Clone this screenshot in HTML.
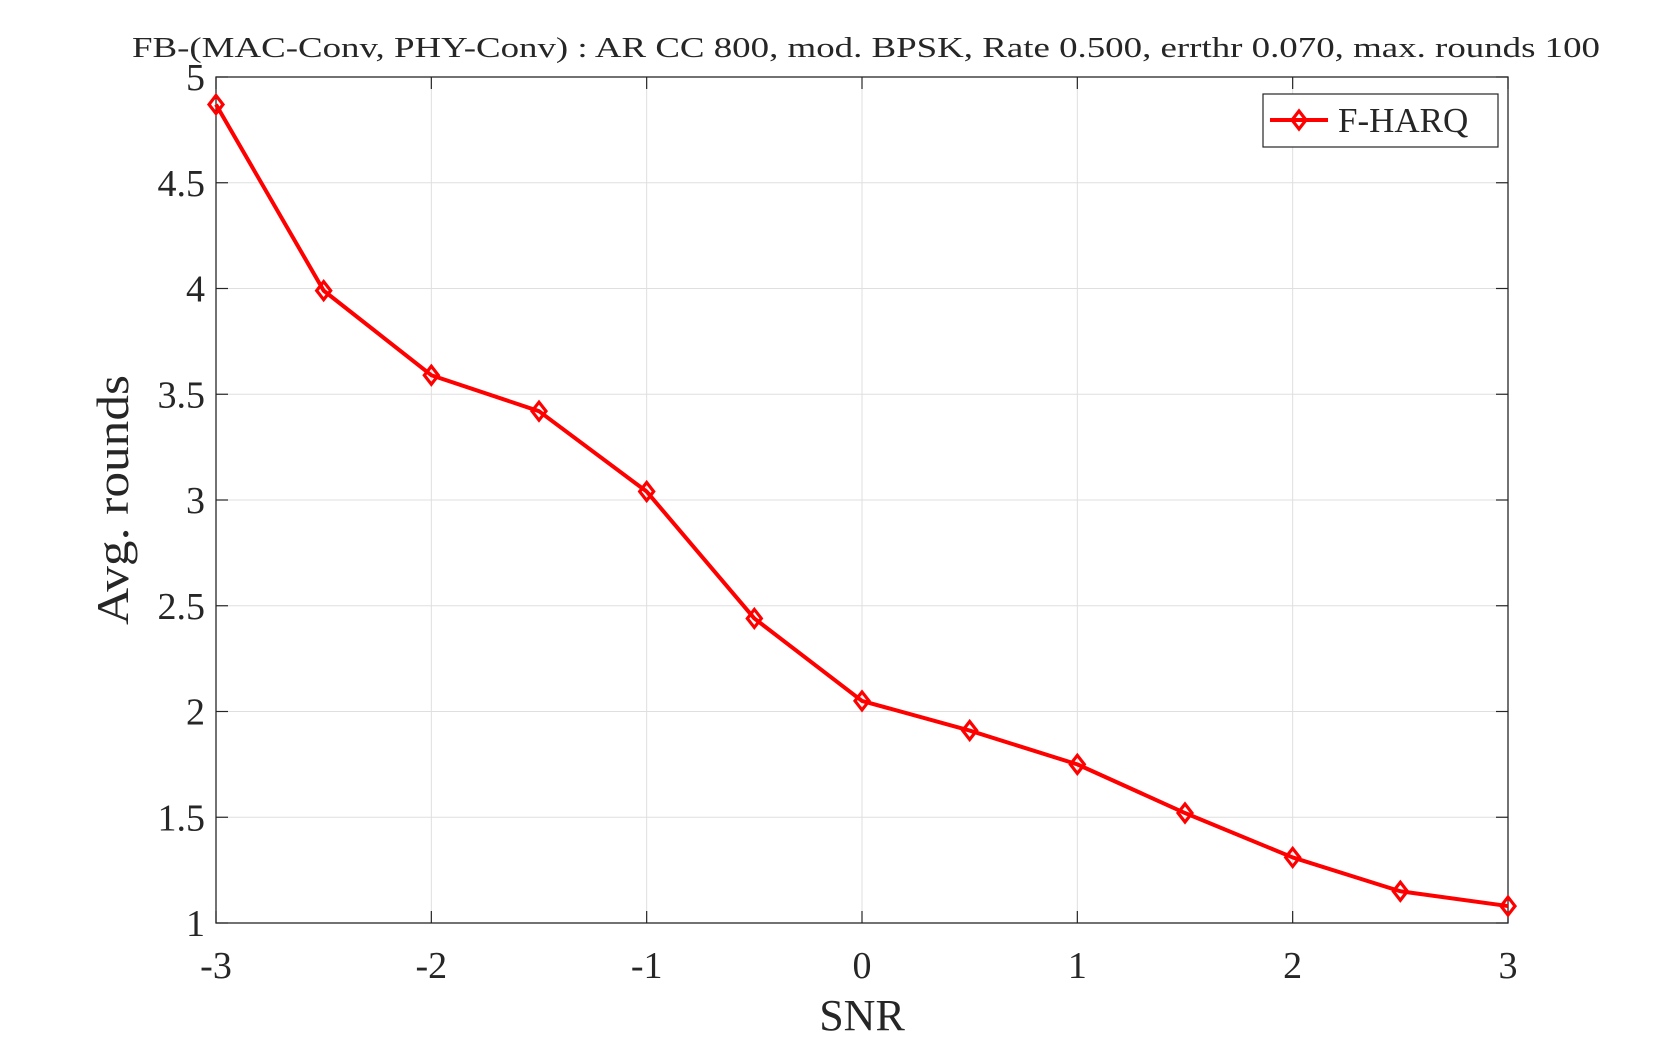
<!DOCTYPE html>
<html><head><meta charset="utf-8"><style>
body{margin:0;background:#fff}
svg text{font-family:"Liberation Serif",serif;fill:#262626}
</style></head><body>
<svg id="chart" width="1667" height="1042" xmlns="http://www.w3.org/2000/svg">
<rect width="1667" height="1042" fill="#fff"/>
<g id="grid"></g>
<g id="axes"></g>
<g id="series"></g>
<text x="866" y="57" font-size="29" text-anchor="middle" textLength="1468" lengthAdjust="spacingAndGlyphs">FB-(MAC-Conv, PHY-Conv) : AR CC 800, mod. BPSK, Rate 0.500, errthr 0.070, max. rounds 100</text>
<text x="862" y="1030" font-size="44" text-anchor="middle">SNR</text>
<text transform="translate(128,500) rotate(-90)" font-size="46" text-anchor="middle" textLength="250" lengthAdjust="spacingAndGlyphs">Avg. rounds</text>
<g>
<rect x="1263" y="94" width="235" height="53" fill="#fff" stroke="#262626" stroke-width="1.2"/>
<line x1="1270" y1="120" x2="1328" y2="120" stroke="#ff0000" stroke-width="4"/>
<path d="M1299 111 L1306 120 L1299 129 L1292 120 Z" fill="none" stroke="#ff0000" stroke-width="3.2"/>
<text x="1338" y="132" font-size="35">F-HARQ</text>
</g>
</svg>
<script>
const snr=[-3,-2.5,-2,-1.5,-1,-0.5,0,0.5,1,1.5,2,2.5,3];
const avgRounds=[4.87,3.99,3.59,3.42,3.04,2.44,2.05,1.91,1.75,1.52,1.31,1.15,1.08];
const xTicks=[-3,-2,-1,0,1,2,3];
const yTicks=[1,1.5,2,2.5,3,3.5,4,4.5,5];
const L=216,R=1508,T=77,B=923;
const xs=v=>L+(v+3)/6*(R-L);
const ys=v=>B-(v-1)/4*(B-T);
const NS="http://www.w3.org/2000/svg";
function mk(tag,attrs,parent){const e=document.createElementNS(NS,tag);for(const k in attrs)e.setAttribute(k,attrs[k]);parent.appendChild(e);return e;}
const grid=document.getElementById('grid'),axes=document.getElementById('axes'),ser=document.getElementById('series');
xTicks.forEach(t=>{const x=xs(t);
 const g=mk('line',{x1:x,x2:x,y1:T,y2:B,stroke:'#dfdfdf','stroke-width':1},grid);
 
 
 mk('line',{x1:x,x2:x,y1:B,y2:B-12,stroke:'#262626','stroke-width':1.2},axes);
 mk('line',{x1:x,x2:x,y1:T,y2:T+12,stroke:'#262626','stroke-width':1.2},axes);
 const tx=mk('text',{x:x,y:978,'font-size':38,'text-anchor':'middle'},axes);
 tx.textContent=t;
 
 
});
yTicks.forEach(t=>{const y=ys(t);
 const g=mk('line',{x1:L,x2:R,y1:y,y2:y,stroke:'#dfdfdf','stroke-width':1},grid);
 
 
 mk('line',{x1:L,x2:L+12,y1:y,y2:y,stroke:'#262626','stroke-width':1.2},axes);
 mk('line',{x1:R,x2:R-12,y1:y,y2:y,stroke:'#262626','stroke-width':1.2},axes);
 const tx=mk('text',{x:L-11,y:y+13,'font-size':38,'text-anchor':'end'},axes);
 tx.textContent=t;
 
 
});
mk('rect',{x:L,y:T,width:R-L,height:B-T,fill:'none',stroke:'#262626','stroke-width':1.3},axes);
const pts=snr.map((s,i)=>xs(s)+','+ys(avgRounds[i])).join(' ');
const pl=mk('polyline',{points:pts,fill:'none',stroke:'#ff0000','stroke-width':4,'stroke-linejoin':'round'},ser);


snr.forEach((s,i)=>{const x=xs(s),y=ys(avgRounds[i]);
 const m=mk('path',{d:`M${x} ${y-9} L${x+7} ${y} L${x} ${y+9} L${x-7} ${y} Z`,fill:'none',stroke:'#ff0000','stroke-width':3.2},ser);
 
 
});
</script>
</body></html>
